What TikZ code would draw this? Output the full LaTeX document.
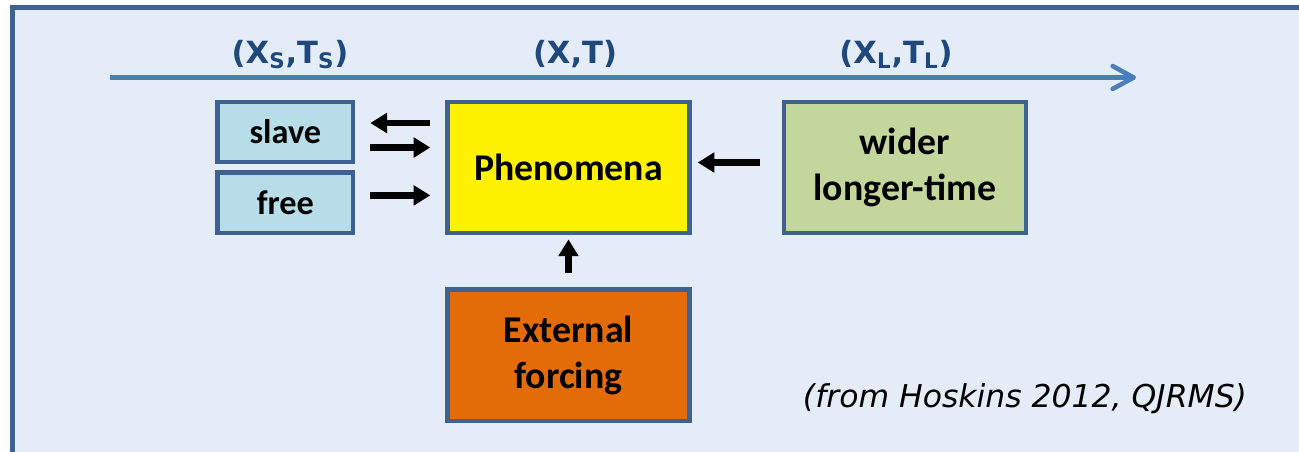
\documentclass[tikz,border=0pt]{standalone}
\usepackage{fontspec}
\setmainfont{Carlito}
\newfontfamily\labelfont{DejaVu Sans}
\usetikzlibrary{positioning,arrows.meta}

\definecolor{framecol}{RGB}{61,97,144}
\definecolor{bgcol}{RGB}{228,236,247}
\definecolor{axiscol}{RGB}{74,126,187}
\definecolor{labelcol}{RGB}{31,73,125}
\definecolor{slavecol}{RGB}{183,222,232}
\definecolor{widecol}{RGB}{195,214,155}
\definecolor{forcecol}{RGB}{227,108,9}

\begin{document}
\begin{tikzpicture}[
  node distance=1.8cm and 1.8cm,
  mybox/.style={draw=framecol,line width=2.5pt,align=center,inner sep=0pt,
    minimum width=4.84cm,minimum height=2.63cm,
    font=\bfseries\fontsize{21.5}{26}\selectfont},
  smallbox/.style={mybox,fill=slavecol,minimum width=2.71cm,minimum height=1.21cm,
    font=\bfseries\fontsize{19.5}{23}\selectfont},
  axlabel/.style={text=labelcol,anchor=base,
    font=\labelfont\bfseries\fontsize{17.4}{20}\selectfont},
  blkarrow/.style={line width=3.8pt,-{Triangle[length=9.5pt,width=11pt]}}
]
\useasboundingbox (0,0) rectangle (25.98,-9.02);
\clip (0,0) rectangle (25.98,-9.02);
\draw[framecol,line width=2.8pt,fill=bgcol] (0.25,-0.15) rectangle (26.4,-9.5);

% scale axis
\coordinate (ax0) at (2.2,-1.55);
\coordinate (ax1) at (22.72,-1.55);
\draw[axiscol,line width=2.6pt,-{Straight Barb[length=12pt,width=13pt,round]}] (ax0) -- (ax1);
\node[axlabel] (ls) at (5.80,-1.26) {(X\textsubscript{S},T\textsubscript{S})};
\node[axlabel] (lx) at (11.50,-1.26) {(X,T)};
\node[axlabel] (ll) at (17.92,-1.26) {(X\textsubscript{L},T\textsubscript{L})};

\node[mybox,fill=yellow] (phen) at (11.37,-3.35) {Phenomena};
\node[mybox,fill=widecol,right=of phen] (wide) {wider\\longer-time};
\node[mybox,fill=forcecol,below=1.04cm of phen] (force) {External\\forcing};
\node[smallbox,below left=0cm and 1.8cm of phen.north west] (slave) {slave};
\node[smallbox,below=0.12cm of slave] (free) {free};

\draw[blkarrow,shorten <=0.3cm,shorten >=0.3cm]
  ([yshift=0.18cm]slave.east -| phen.west) -- ([yshift=0.18cm]slave.east);
\draw[blkarrow,shorten <=0.3cm,shorten >=0.3cm]
  ([yshift=-0.31cm]slave.east) -- ([yshift=-0.31cm]slave.east -| phen.west);
\draw[blkarrow,shorten <=0.3cm,shorten >=0.3cm]
  ([yshift=0.15cm]free.east) -- ([yshift=0.15cm]free.east -| phen.west);
\draw[blkarrow,shorten <=0.44cm,shorten >=0.12cm]
  ([yshift=0.1cm]wide.west) -- ([yshift=0.1cm]phen.east);
\draw[blkarrow,shorten <=0.28cm,shorten >=0.08cm] (force) -- (phen);

\node[anchor=base,font=\labelfont\itshape\fontsize{17.9}{21}\selectfont] (cite)
  at (20.5,-8.14) {(from Hoskins 2012, QJRMS)};
\end{tikzpicture}
\end{document}
